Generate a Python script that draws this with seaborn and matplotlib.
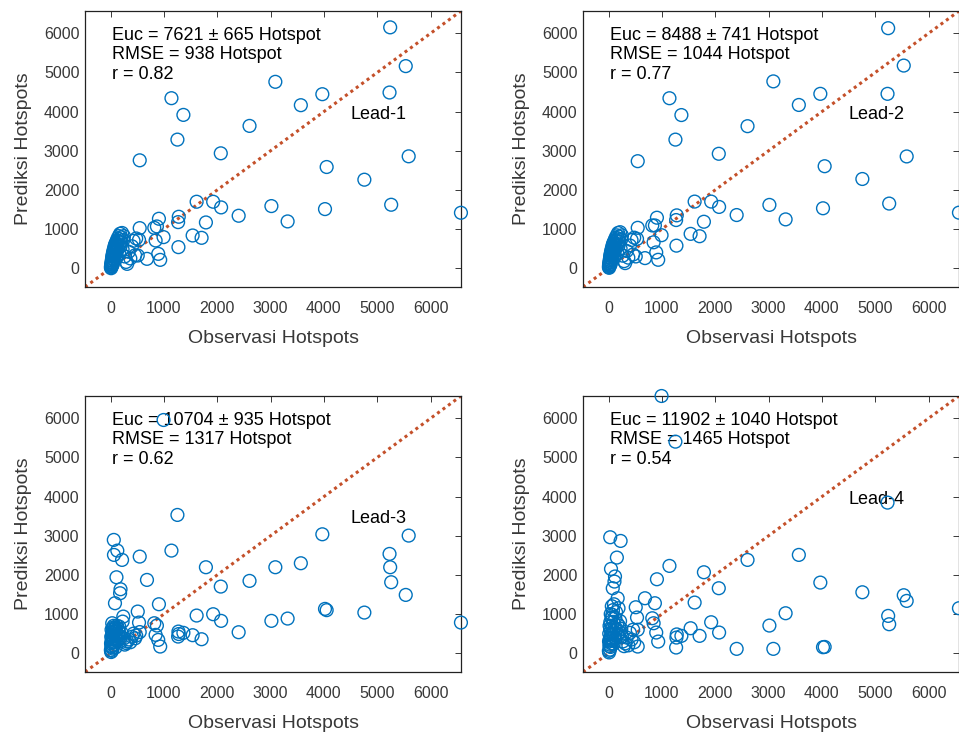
import matplotlib
matplotlib.use("Agg")
import matplotlib.pyplot as plt
import seaborn as sns
import pandas as pd

# Observed hotspot counts (shared by all four lead times)
obs = [5, 8, 10, 12, 15, 18, 20, 22, 25, 28, 30, 33, 35, 38, 40, 42, 45, 48, 50, 55,
       58, 60, 63, 66, 70, 74, 78, 82, 85, 90, 95, 100, 105, 110, 115, 120, 126, 132, 140, 148,
       155, 162, 170, 178, 186, 195, 205, 215, 225, 238, 250, 265, 290, 310, 340, 370, 400, 430, 460, 480,
       509, 533, 546, 546, 682, 819, 844, 868, 893, 906, 930, 993, 1141, 1253, 1266, 1272, 1278, 1365,
       1538, 1613, 1706, 1787, 1923, 2066, 2072, 2401, 2605, 3015, 3089, 3319, 3567, 3970, 4020, 4051,
       4758, 5230, 5242, 5261, 5534, 5589, 6569]

pred_lead1 = [20, 60, 0, 110, 40, 150, 90, 200, 60, 260, 130, 310, 180, 90, 350, 230, 400, 140, 300, 450,
              210, 380, 500, 270, 420, 560, 330, 480, 610, 390, 530, 650, 250, 580, 700, 440, 620, 760, 510, 690,
              820, 370, 740, 880, 560, 790, 660, 900, 480, 720, 820, 300, 160, 111, 420, 250, 560, 700, 330, 760,
              324, 725, 1024, 2756, 239, 1032, 708, 1067, 367, 1263, 213, 794, 4343, 3285, 1177, 538, 1314, 3916,
              836, 1698, 776, 1169, 1698, 2935, 1553, 1340, 3635, 1587, 4761, 1195, 4164, 4445, 1510, 2585,
              2261, 4488, 6152, 1621, 5162, 2858, 1416]

pred_lead2 = [30, 80, 10, 130, 50, 170, 100, 220, 70, 280, 150, 330, 200, 100, 370, 250, 420, 160, 320, 470,
              230, 400, 520, 290, 440, 580, 350, 500, 630, 410, 550, 670, 270, 600, 720, 460, 640, 780, 530, 710,
              840, 390, 760, 900, 580, 810, 680, 920, 500, 740, 840, 320, 180, 130, 440, 270, 580, 720, 350, 780,
              300, 748, 1032, 2734, 258, 1092, 662, 1092, 404, 1290, 215, 843, 4342, 3285, 1230, 576, 1350, 3912,
              877, 1702, 817, 1187, 1702, 2923, 1565, 1358, 3628, 1617, 4772, 1247, 4170, 4454, 1531, 2605,
              2279, 4454, 6131, 1651, 5176, 2855, 1419]

pred_lead3 = [80, 250, 30, 420, 160, 600, 320, 180, 60, 450, 766, 520, 280, 120, 650, 380, 560, 200, 480, 300,
              700, 2894, 2511, 360, 620, 240, 540, 1277, 430, 660, 150, 580, 390, 1940, 500, 700, 2621, 350, 620, 450,
              560, 680, 300, 1532, 1634, 420, 520, 2383, 808, 936, 380, 220, 260, 300, 350, 280, 420, 500, 380, 450,
              1064, 783, 540, 2468, 1872, 766, 468, 706, 340, 1251, 170, 5957, 2621, 3532, 425, 553, 490, 520,
              460, 962, 357, 2196, 996, 1702, 826, 536, 1847, 826, 2196, 885, 2298, 3038, 1132, 1100,
              1038, 2536, 2196, 1813, 1489, 3004, 783]

pred_lead4 = [60, 300, 20, 500, 180, 700, 350, 220, 90, 620, 2962, 800, 400, 160, 1000, 450, 2153, 250, 600, 380,
              900, 1200, 700, 500, 978, 320, 1660, 1100, 560, 800, 240, 1250, 420, 1830, 650, 1960, 900, 380, 1050, 620,
              2443, 760, 1404, 480, 1150, 700, 540, 820, 2868, 620, 420, 300, 180, 250, 400, 200, 520, 350, 600, 280,
              1174, 911, 170, 600, 1404, 893, 766, 1277, 528, 1889, 298, 6570, 2230, 5404, 145, 400, 480, 443,
              638, 1294, 443, 2068, 791, 1660, 528, 111, 2383, 706, 111, 1021, 2511, 1804, 153, 160,
              1557, 3847, 953, 740, 1481, 1336, 1149]

panel_labels = ["Lead-1", "Lead-2", "Lead-3", "Lead-4"]
euc_mean = [7621, 8488, 10704, 11902]
euc_err = [665, 741, 935, 1040]
rmse = [938, 1044, 1317, 1465]
corr = [0.82, 0.77, 0.62, 0.54]
label_y = [3930, 3930, 3450, 3930]

ticks = [0, 1000, 2000, 3000, 4000, 5000, 6000]
lim = (-480, 6570)

BLUE = "#0072BD"
ORANGE = "#C4502A"
GRAY = "#383838"

sns.set_style("white")
plt.rcParams["font.family"] = ["Liberation Sans", "DejaVu Sans"]
plt.rcParams.update({
    "xtick.direction": "in", "ytick.direction": "in",
    "xtick.top": True, "ytick.right": True,
    "xtick.major.size": 4, "ytick.major.size": 4,
    "xtick.major.width": 0.7, "ytick.major.width": 0.7,
    "xtick.color": GRAY, "ytick.color": GRAY,
    "axes.edgecolor": "#222222", "axes.linewidth": 0.9,
})

W, H = 959, 733
fig = plt.figure(figsize=(W / 100, H / 100), dpi=100)
boxes = [(85, 11), (583, 11), (85, 396), (583, 396)]
aw, ah = 376, 276

preds = [pred_lead1, pred_lead2, pred_lead3, pred_lead4]
for i, (px, py) in enumerate(boxes):
    ax = fig.add_axes([px / W, 1 - (py + ah) / H, aw / W, ah / H])
    df = pd.DataFrame({"obs": obs, "pred": preds[i]})
    sns.lineplot(x=list(lim), y=list(lim), ax=ax, color=ORANGE, linestyle=(0, (1, 1.2)),
                 linewidth=2.2, zorder=1)
    sns.scatterplot(data=df, x="obs", y="pred", ax=ax, marker="o", s=85,
                    facecolor="none", edgecolor=BLUE, linewidth=1.0, zorder=3, clip_on=False)
    ax.set_xlim(lim)
    ax.set_ylim(lim)
    ax.set_xticks(ticks)
    ax.set_yticks(ticks)
    ax.tick_params(axis="x", labelsize=11.5, pad=10)
    ax.tick_params(axis="y", labelsize=11.5, pad=4)
    ax.set_xlabel("Observasi Hotspots", fontsize=14, color=GRAY)
    ax.set_ylabel("Prediksi Hotspots", fontsize=14, color=GRAY)
    ax.xaxis.set_label_coords(0.5, -0.155)
    ax.yaxis.set_label_coords(-0.163, 0.5)
    ax.yaxis.label.set_va("center")
    for s in ax.spines.values():
        s.set_visible(True)
    lines = [f"Euc = {euc_mean[i]} ± {euc_err[i]} Hotspot",
             f"RMSE = {rmse[i]} Hotspot",
             f"r = {corr[i]:.2f}"]
    for k, t in enumerate(lines):
        ax.text(30, 5950 - 500 * k, t, fontsize=13, color="black", va="center", ha="left", zorder=2)
    ax.text(4500, label_y[i], panel_labels[i], fontsize=13, color="black", va="center", ha="left", zorder=2)

fig.savefig("out.png", dpi=100)
